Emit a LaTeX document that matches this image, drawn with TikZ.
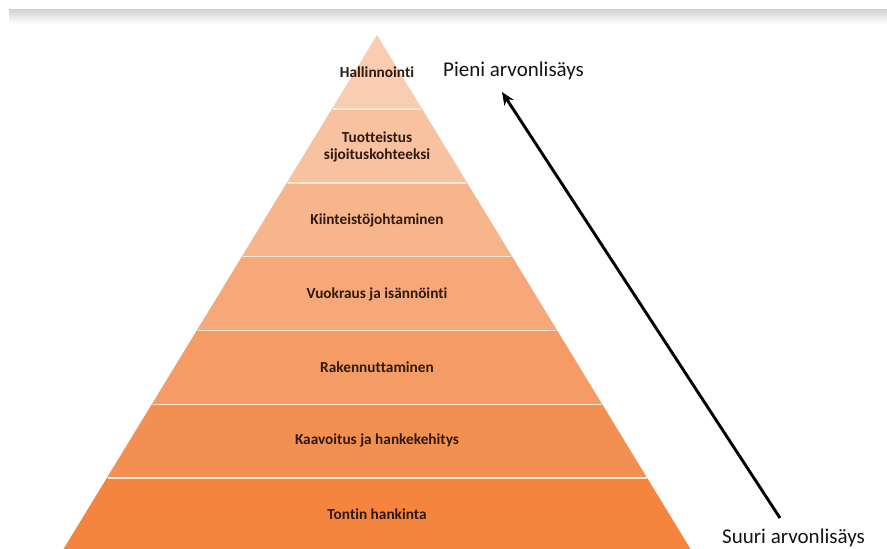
\documentclass[tikz,border=0pt]{standalone}
\usepackage{fontspec}
\setmainfont[Ligatures=NoCommon]{Carlito}
\usetikzlibrary{arrows.meta}
\definecolor{Lone}{HTML}{F9CDB1}
\definecolor{Ltwo}{HTML}{F8C2A0}
\definecolor{Lthree}{HTML}{F7B58C}
\definecolor{Lfour}{HTML}{F6A87A}
\definecolor{Lfive}{HTML}{F59B66}
\definecolor{Lsix}{HTML}{F48F52}
\definecolor{Lseven}{HTML}{F4843E}
\definecolor{sepcol}{HTML}{FDE8D6}
\definecolor{txtcol}{HTML}{2E1A0E}
\definecolor{sidecol}{HTML}{141414}
\begin{document}
\begin{tikzpicture}[x=1pt,y=-1pt,
  lvltext/.style={font=\fontsize{15.3}{17.5}\selectfont\bfseries, text=txtcol, align=center, inner sep=0pt},
  sidelabel/.style={font=\fontsize{21}{24}\selectfont, text=sidecol, anchor=base west, inner sep=0pt},
  sepline/.style={draw=sepcol, line width=1.6pt},
  bigarrow/.style={draw=black, line width=2.9pt, -{Stealth[length=13pt,width=11pt]}}]
\useasboundingbox (0,0) rectangle (887,549);
\clip (0,0) rectangle (887,549);
\fill[white] (0,0) rectangle (887,549);
\shade[top color=black!18, bottom color=white] (9,9) rectangle (887,24);
% pyramid levels
\foreach \k/\c in {0/Lone,1/Ltwo,2/Lthree,3/Lfour,4/Lfive,5/Lsix,6/Lseven}{
  \fill[\c] ({377-45.05*\k},{35+73.86*\k}) -- ({377+45.05*\k},{35+73.86*\k})
        -- ({377+45.05*(\k+1)},{35+73.86*(\k+1)}) -- ({377-45.05*(\k+1)},{35+73.86*(\k+1)}) -- cycle;
}
\foreach \k in {1,...,6}{
  \draw[sepline] ({377-45.05*\k+0.8},{35+73.86*\k}) -- ({377+45.05*\k-0.8},{35+73.86*\k});
}
% level texts
\node[lvltext] (l1) at (377,72) {Hallinnointi};
\node[lvltext] (l2) at (377,147) {Tuotteistus\\sijoituskohteeksi};
\node[lvltext] (l3) at (377,220) {Kiinteistöjohtaminen};
\node[lvltext] (l4) at (377,294) {Vuokraus ja isännöinti};
\node[lvltext] (l5) at (377,367) {Rakennuttaminen};
\node[lvltext] (l6) at (377,440) {Kaavoitus ja hankekehitys};
\node[lvltext] (l7) at (377,514) {Tontin hankinta};
% side labels
\node[sidelabel] (pieni) at (443,76) {Pieni arvonlisäys};
\node[sidelabel] (suuri) at (722,543) {Suuri arvonlisäys};
% arrow
\coordinate (atail) at (780,518);
\coordinate (ahead) at (502,92);
\draw[bigarrow] (atail) -- (ahead);
\end{tikzpicture}
\end{document}
